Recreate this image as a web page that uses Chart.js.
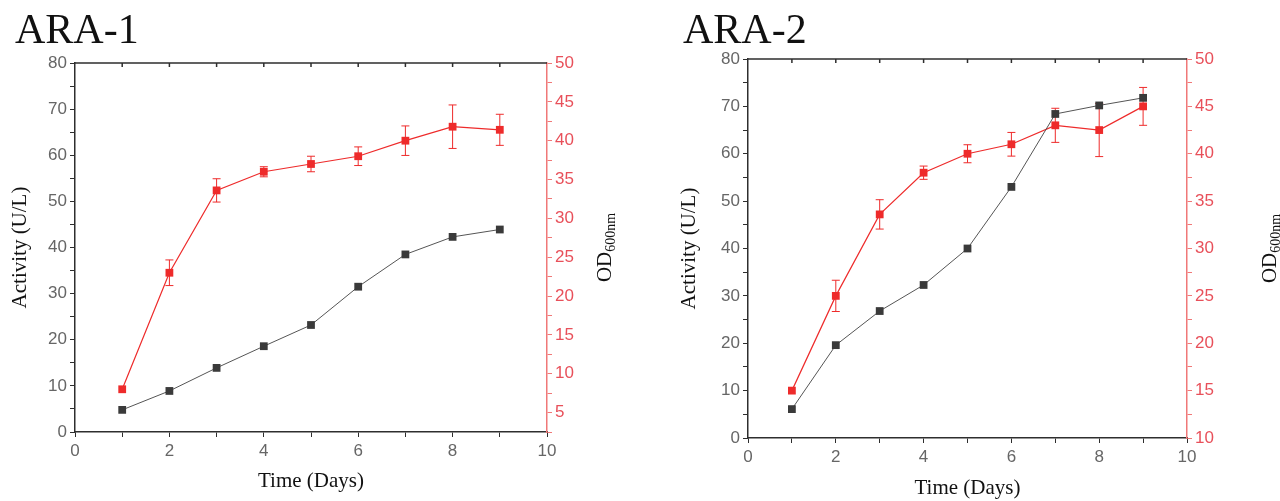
<!DOCTYPE html>
<html>
<head>
<meta charset="utf-8">
<script src="https://cdn.jsdelivr.net/npm/chart.js@4.4.0/dist/chart.umd.min.js"></script>
<style>
    html, body { margin: 0; padding: 0; background: #fff; }
    body { width: 1280px; height: 501px; position: relative; overflow: hidden; }
    .panel { position: absolute; top: 0; width: 640px; height: 501px; }
    .title { position: absolute; top: 4px; font: 42px 'Liberation Serif', serif; line-height: 50px; color: #111; }
</style>
</head>
<body>
<div class="panel" style="left:0"><canvas id="ara1"></canvas></div>
<div class="panel" style="left:640px"><canvas id="ara2"></canvas></div>
<div class="title" style="left:15px">ARA-1</div>
<div class="title" style="left:683px">ARA-2</div>
<script>
// data
const days = [1, 2, 3, 4, 5, 6, 7, 8, 9];

const ara1Activity = [4.8, 8.9, 13.9, 18.6, 23.2, 31.5, 38.5, 42.3, 43.9];
const ara1OD = [8.0, 23.0, 33.6, 36.0, 37.0, 38.0, 40.0, 41.8, 41.4];
const ara1ODErr = [0, 1.65, 1.5, 0.65, 1.0, 1.2, 1.9, 2.8, 2.0];

const ara2Activity = [6.1, 19.6, 26.8, 32.3, 40.0, 53.0, 68.4, 70.2, 71.8];
const ara2OD = [15.0, 25.0, 33.6, 38.0, 40.0, 41.0, 43.0, 42.5, 45.0];
const ara2ODErr = [0, 1.65, 1.55, 0.7, 0.95, 1.25, 1.8, 2.8, 2.0];

const xRange = [0, 10];
const activityRange = [0, 80];
const ara1ODRange = [2.5, 50];
const ara2ODRange = [10, 50];

const SANS = "'Liberation Sans', Arial, sans-serif";
const SERIF = "'Liberation Serif', 'Times New Roman', serif";
const AXIS = '#2e2e2e';
const LABEL = '#666666';
const RED = '#ee2b2b';
const RED_AXIS = '#f07878';
const RED_LABEL = '#e8505a';

const toPoints = (ys) => days.map((d, i) => ({ x: d, y: ys[i] }));

// vertical error bars, drawn under the lines and markers
const errorBars = {
    id: 'errorBars',
    beforeDatasetsDraw(chart) {
        const ctx = chart.ctx;
        chart.data.datasets.forEach((ds, i) => {
            if (!ds.errors) return;
            const xs = chart.scales.x;
            const ys = chart.scales[ds.yAxisID];
            ctx.save();
            ctx.strokeStyle = ds.borderColor;
            ctx.lineWidth = 1;
            ds.data.forEach((p, j) => {
                const e = ds.errors[j];
                if (!e) return;
                const px = xs.getPixelForValue(p.x);
                const top = ys.getPixelForValue(p.y + e);
                const bot = ys.getPixelForValue(p.y - e);
                ctx.beginPath();
                ctx.moveTo(px, top); ctx.lineTo(px, bot);
                ctx.moveTo(px - 4, top); ctx.lineTo(px + 4, top);
                ctx.moveTo(px - 4, bot); ctx.lineTo(px + 4, bot);
                ctx.stroke();
            });
            ctx.restore();
        });
    }
};

// top frame line with inward ticks, and the right axis title with subscript
function framePlugin(titleX) {
    return {
        id: 'frame',
        afterDraw(chart) {
            const ctx = chart.ctx;
            const a = chart.chartArea;
            const xs = chart.scales.x;
            ctx.save();
            ctx.strokeStyle = AXIS;
            ctx.lineWidth = 1.5;
            ctx.beginPath();
            ctx.moveTo(a.left, a.top);
            ctx.lineTo(a.right, a.top);
            for (let v = xRange[0] + 1; v < xRange[1]; v++) {
                const px = xs.getPixelForValue(v);
                ctx.moveTo(px, a.top);
                ctx.lineTo(px, a.top + 4);
            }
            ctx.stroke();

            ctx.translate(titleX, (a.top + a.bottom) / 2);
            ctx.rotate(-Math.PI / 2);
            ctx.fillStyle = '#111';
            ctx.textBaseline = 'middle';
            ctx.font = '21px ' + SERIF;
            const w1 = ctx.measureText('OD').width;
            ctx.font = '14px ' + SERIF;
            const w2 = ctx.measureText('600nm').width;
            const start = -(w1 + w2) / 2;
            ctx.font = '21px ' + SERIF;
            ctx.textAlign = 'left';
            ctx.fillText('OD', start, 0);
            ctx.font = '14px ' + SERIF;
            ctx.fillText('600nm', start + w1, 6);
            ctx.restore();
        }
    };
}

function makeChart(id, p) {
    const ctx = document.getElementById(id).getContext('2d');
    return new Chart(ctx, {
        type: 'line',
        data: {
            datasets: [
                {
                    label: 'Activity',
                    data: toPoints(p.activity),
                    yAxisID: 'y',
                    borderColor: '#555555',
                    borderWidth: 1,
                    pointStyle: 'rect',
                    pointRadius: 5.5,
                    pointBackgroundColor: '#3a3a3a',
                    pointBorderColor: '#3a3a3a',
                    pointBorderWidth: 0
                },
                {
                    label: 'OD600nm',
                    data: toPoints(p.od),
                    errors: p.odErr,
                    yAxisID: 'y1',
                    borderColor: RED,
                    borderWidth: 1.2,
                    pointStyle: 'rect',
                    pointRadius: 5.5,
                    pointBackgroundColor: RED,
                    pointBorderColor: RED,
                    pointBorderWidth: 0
                }
            ]
        },
        options: {
            responsive: true,
            maintainAspectRatio: false,
            animation: false,
            layout: { padding: { top: p.top, left: 0, right: 0, bottom: 0 } },
            plugins: {
                legend: { display: false },
                tooltip: { enabled: false }
            },
            scales: {
                x: {
                    type: 'linear',
                    min: xRange[0],
                    max: xRange[1],
                    border: { color: AXIS, width: 1.5 },
                    grid: { drawOnChartArea: false, tickLength: 5, color: AXIS },
                    ticks: {
                        stepSize: 1, autoSkip: false, maxRotation: 0, padding: 4,
                        color: LABEL, font: { family: SANS, size: 17 },
                        callback: v => (v % 2 === 0 ? v : '')
                    },
                    title: {
                        display: true, text: 'Time (Days)', color: '#111',
                        font: { family: SERIF, size: 21 },
                        padding: { top: 0, bottom: p.xTitlePad }
                    },
                    afterFit: s => { s.height = p.xHeight; }
                },
                y: {
                    position: 'left',
                    min: activityRange[0],
                    max: activityRange[1],
                    border: { color: AXIS, width: 1.5 },
                    grid: { drawOnChartArea: false, tickLength: 5, color: AXIS },
                    ticks: {
                        stepSize: 5, autoSkip: false, padding: 3,
                        color: LABEL, font: { family: SANS, size: 17 },
                        callback: v => (v % 10 === 0 ? v : '')
                    },
                    title: {
                        display: true, text: 'Activity (U/L)', color: '#111',
                        font: { family: SERIF, size: 21 },
                        padding: { top: p.yTitlePad, bottom: 0 }
                    },
                    afterFit: s => { s.width = p.leftWidth; }
                },
                y1: {
                    position: 'right',
                    min: p.odRange[0],
                    max: p.odRange[1],
                    border: { color: RED_AXIS, width: 1.5 },
                    grid: { drawOnChartArea: false, tickLength: 5, color: RED_AXIS },
                    ticks: {
                        stepSize: 2.5, autoSkip: false, padding: 3,
                        color: RED_LABEL, font: { family: SANS, size: 17 },
                        callback: v => (v % 5 === 0 ? v : '')
                    },
                    afterFit: s => { s.width = 93; }
                }
            }
        },
        plugins: [errorBars, framePlugin(p.odTitleX)]
    });
}

makeChart('ara1', {
    activity: ara1Activity, od: ara1OD, odErr: ara1ODErr, odRange: ara1ODRange,
    top: 63, xHeight: 69, xTitlePad: 7, leftWidth: 75, yTitlePad: 8, odTitleX: 605
});

makeChart('ara2', {
    activity: ara2Activity, od: ara2OD, odErr: ara2ODErr, odRange: ara2ODRange,
    top: 59, xHeight: 63, xTitlePad: 0, leftWidth: 108, yTitlePad: 37, odTitleX: 630
});
</script>
</body>
</html>
